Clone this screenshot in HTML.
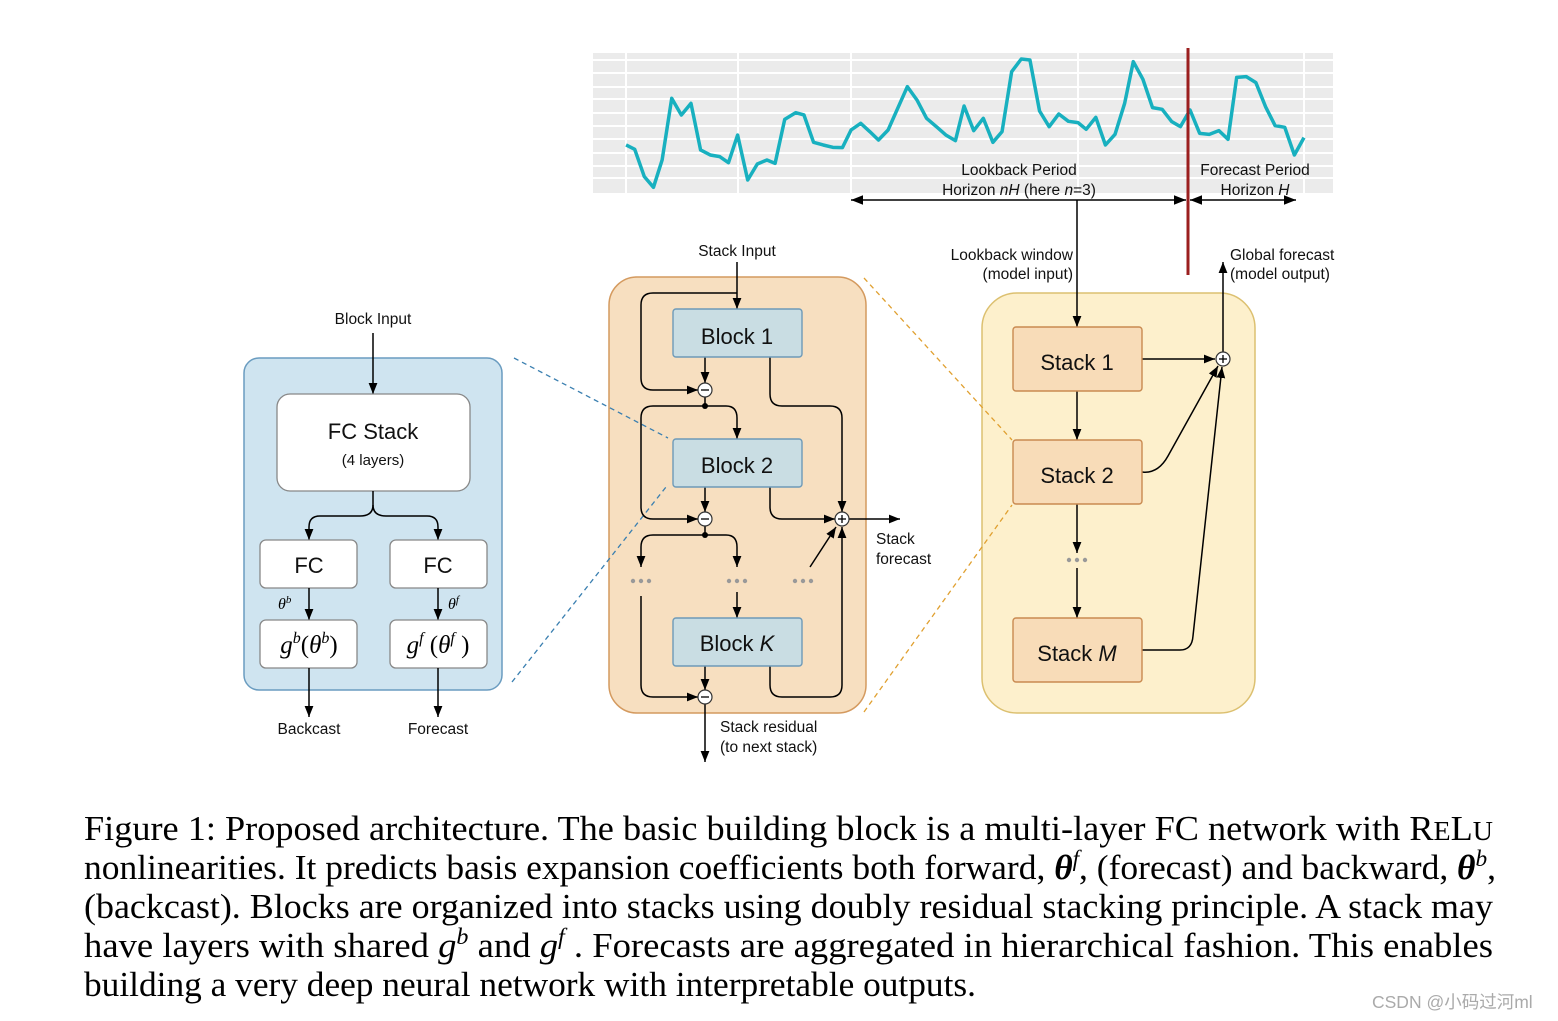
<!DOCTYPE html>
<html><head><meta charset="utf-8"><style>
html,body{margin:0;padding:0;background:#fff;}
svg{display:block;}
.s{font-family:"Liberation Sans",sans-serif;fill:#111;}
.c{font-family:"Liberation Serif",serif;fill:#000;font-size:35px;}
</style></head><body>
<svg width="1558" height="1021" viewBox="0 0 1558 1021" xmlns="http://www.w3.org/2000/svg">
<defs>
<marker id="a" viewBox="0 0 10 10" refX="10" refY="5" markerWidth="11" markerHeight="11" orient="auto-start-reverse" markerUnits="userSpaceOnUse"><path d="M0,1 L10,5 L0,9 z" fill="#000"/></marker>
<marker id="b" viewBox="0 0 10 10" refX="10" refY="5" markerWidth="12" markerHeight="12" orient="auto-start-reverse" markerUnits="userSpaceOnUse"><path d="M0,1 L10,5 L0,9 z" fill="#000"/></marker>
</defs>

<!-- chart -->
<rect x="593" y="53" width="740" height="140" fill="#ebebeb"/>
<g stroke="#fff" stroke-width="2">
<line x1="593" x2="1333" y1="60" y2="60"/><line x1="593" x2="1333" y1="73" y2="73"/><line x1="593" x2="1333" y1="87" y2="87"/><line x1="593" x2="1333" y1="99" y2="99"/><line x1="593" x2="1333" y1="113" y2="113"/><line x1="593" x2="1333" y1="126" y2="126"/><line x1="593" x2="1333" y1="139" y2="139"/><line x1="593" x2="1333" y1="153" y2="153"/><line x1="593" x2="1333" y1="166" y2="166"/><line x1="593" x2="1333" y1="178" y2="178"/>
<line x1="626" x2="626" y1="53" y2="193"/><line x1="738" x2="738" y1="53" y2="193"/><line x1="851" x2="851" y1="53" y2="193"/><line x1="1078" x2="1078" y1="53" y2="193"/><line x1="1304" x2="1304" y1="53" y2="193"/>
</g>
<g transform="translate(590,40) scale(0.4808,0.3333)">
<polyline fill="none" stroke="#18b0bf" stroke-width="3.5" vector-effect="non-scaling-stroke" stroke-linejoin="round" points="75,315 93,328 113,410 132,442 150,360 170,175 190,225 210,190 230,330 250,345 270,350 288,368 307,285 328,420 348,372 368,360 385,370 405,238 428,218 445,225 465,307 485,315 505,322 525,323 543,270 563,250 582,275 600,300 620,270 640,205 660,140 680,180 700,235 722,262 740,285 760,302 778,198 798,272 818,235 838,307 857,275 877,95 897,57 915,60 935,213 955,260 975,222 995,244 1015,248 1032,268 1052,232 1072,315 1092,283 1112,190 1130,65 1150,118 1170,203 1190,208 1210,245 1228,260 1248,210 1268,280 1288,283 1308,272 1327,298 1345,112 1365,110 1385,128 1405,200 1425,257 1445,262 1465,345 1485,293"/>
</g>
<line x1="1188" y1="48" x2="1188" y2="275" stroke="#9b1f1f" stroke-width="3"/>
<text class="s" x="1019" y="175" font-size="15.5" text-anchor="middle">Lookback Period</text>
<text class="s" x="1019" y="195" font-size="15.5" text-anchor="middle">Horizon <tspan font-style="italic">nH</tspan> (here <tspan font-style="italic">n</tspan>=3)</text>
<text class="s" x="1255" y="175" font-size="15.5" text-anchor="middle">Forecast Period</text>
<text class="s" x="1255" y="195" font-size="15.5" text-anchor="middle">Horizon <tspan font-style="italic">H</tspan></text>
<line x1="851" y1="200" x2="1186" y2="200" stroke="#000" stroke-width="1.5" marker-start="url(#b)" marker-end="url(#b)"/>
<line x1="1190" y1="200" x2="1296" y2="200" stroke="#000" stroke-width="1.5" marker-start="url(#b)" marker-end="url(#b)"/>

<!-- left block -->
<rect x="244" y="358" width="258" height="332" rx="15" fill="#cfe4f0" stroke="#6a9cc0" stroke-width="1.5"/>
<text class="s" x="373" y="324" font-size="15.5" text-anchor="middle">Block Input</text>
<line x1="373" y1="333" x2="373" y2="394" stroke="#000" stroke-width="1.5" marker-end="url(#a)"/>
<rect x="277" y="394" width="193" height="97" rx="13" fill="#fff" stroke="#888" stroke-width="1.3"/>
<text class="s" x="373" y="439" font-size="22" text-anchor="middle">FC Stack</text>
<text class="s" x="373" y="465" font-size="15" text-anchor="middle">(4 layers)</text>
<path d="M373,491 V505 Q373,516 360,516 H320 Q309,516 309,527 V540" fill="none" stroke="#000" stroke-width="1.5" marker-end="url(#a)"/>
<path d="M373,505 Q373,516 386,516 H427 Q438,516 438,527 V540" fill="none" stroke="#000" stroke-width="1.5" marker-end="url(#a)"/>
<rect x="260" y="540" width="97" height="48" rx="6" fill="#fff" stroke="#888" stroke-width="1.3"/>
<rect x="390" y="540" width="97" height="48" rx="6" fill="#fff" stroke="#888" stroke-width="1.3"/>
<text class="s" x="309" y="573" font-size="22" text-anchor="middle">FC</text>
<text class="s" x="438" y="573" font-size="22" text-anchor="middle">FC</text>
<line x1="309" y1="588" x2="309" y2="620" stroke="#000" stroke-width="1.5" marker-end="url(#a)"/>
<line x1="438" y1="588" x2="438" y2="620" stroke="#000" stroke-width="1.5" marker-end="url(#a)"/>
<text x="278" y="609" font-family="Liberation Serif,serif" font-style="italic" font-size="16">θ<tspan font-size="11" dy="-6">b</tspan></text>
<text x="448" y="609" font-family="Liberation Serif,serif" font-style="italic" font-size="16">θ<tspan font-size="11" dy="-6">f</tspan></text>
<rect x="260" y="620" width="97" height="48" rx="6" fill="#fff" stroke="#888" stroke-width="1.3"/>
<rect x="390" y="620" width="97" height="48" rx="6" fill="#fff" stroke="#888" stroke-width="1.3"/>
<text x="309" y="653" font-family="Liberation Serif,serif" font-size="25" text-anchor="middle"><tspan font-style="italic">g</tspan><tspan font-style="italic" font-size="16" dy="-10">b</tspan><tspan dy="10">(</tspan><tspan font-style="italic">θ</tspan><tspan font-style="italic" font-size="16" dy="-10">b</tspan><tspan dy="10">)</tspan></text>
<text x="438" y="653" font-family="Liberation Serif,serif" font-size="25" text-anchor="middle"><tspan font-style="italic">g</tspan><tspan font-style="italic" font-size="16" dy="-10">f</tspan><tspan dy="10"> (</tspan><tspan font-style="italic">θ</tspan><tspan font-style="italic" font-size="16" dy="-10">f</tspan><tspan dy="10"> )</tspan></text>
<line x1="309" y1="668" x2="309" y2="717" stroke="#000" stroke-width="1.5" marker-end="url(#a)"/>
<line x1="438" y1="668" x2="438" y2="717" stroke="#000" stroke-width="1.5" marker-end="url(#a)"/>
<text class="s" x="309" y="734" font-size="15.5" text-anchor="middle">Backcast</text>
<text class="s" x="438" y="734" font-size="15.5" text-anchor="middle">Forecast</text>

<!-- middle stack -->
<rect x="609" y="277" width="257" height="436" rx="28" fill="#f7dfc0" stroke="#d49a5f" stroke-width="1.5"/>
<line x1="514" y1="358" x2="668" y2="438" stroke="#3a7fb0" stroke-width="1.3" stroke-dasharray="5,4"/>
<line x1="512" y1="682" x2="666" y2="487" stroke="#3a7fb0" stroke-width="1.3" stroke-dasharray="5,4"/>
<text class="s" x="737" y="256" font-size="15.5" text-anchor="middle">Stack Input</text>
<g fill="none" stroke="#000" stroke-width="1.5">
<line x1="737" y1="262" x2="737" y2="309" marker-end="url(#a)"/>
<path d="M737,293 H653 Q641,293 641,305 V378 Q641,390 653,390 H698" marker-end="url(#a)"/>
<line x1="705" y1="357" x2="705" y2="383" marker-end="url(#a)"/>
<path d="M770,357 V394 Q770,406 782,406 H830 Q842,406 842,418 V512" marker-end="url(#a)"/>
<line x1="705" y1="397" x2="705" y2="406"/>
<path d="M705,406 H726 Q737,406 737,418 V439" marker-end="url(#a)"/>
<path d="M705,406 H653 Q641,406 641,418 V507 Q641,519 653,519 H698" marker-end="url(#a)"/>
<line x1="705" y1="487" x2="705" y2="512" marker-end="url(#a)"/>
<path d="M770,487 V507 Q770,519 782,519 H835" marker-end="url(#a)"/>
<line x1="705" y1="526" x2="705" y2="535"/>
<path d="M705,535 H653 Q641,535 641,547 V567" marker-end="url(#a)"/>
<path d="M705,535 H726 Q737,535 737,547 V567" marker-end="url(#a)"/>
<line x1="737" y1="592" x2="737" y2="618" marker-end="url(#a)"/>
<path d="M641,596 V685 Q641,697 653,697 H698" marker-end="url(#a)"/>
<line x1="705" y1="666" x2="705" y2="690" marker-end="url(#a)"/>
<path d="M770,666 V685 Q770,697 782,697 H830 Q842,697 842,685 V527" marker-end="url(#a)"/>
<line x1="810" y1="567" x2="836" y2="527" marker-end="url(#a)"/>
<line x1="849" y1="519" x2="900" y2="519" marker-end="url(#a)"/>
<line x1="705" y1="704" x2="705" y2="762" marker-end="url(#a)"/>
</g>
<g fill="#fff" stroke="#333" stroke-width="1.2">
<circle cx="705" cy="390" r="7"/><circle cx="705" cy="519" r="7"/><circle cx="705" cy="697" r="7"/><circle cx="842" cy="519" r="7"/>
</g>
<g stroke="#000" stroke-width="1.3">
<line x1="701" y1="390" x2="709" y2="390"/><line x1="701" y1="519" x2="709" y2="519"/><line x1="701" y1="697" x2="709" y2="697"/>
<line x1="838" y1="519" x2="846" y2="519"/><line x1="842" y1="515" x2="842" y2="523"/>
</g>
<circle cx="705" cy="406" r="3" fill="#000"/><circle cx="705" cy="535" r="3" fill="#000"/>
<g fill="#999"><circle cx="633" cy="581" r="2.2"/><circle cx="641" cy="581" r="2.2"/><circle cx="649" cy="581" r="2.2"/>
<circle cx="729" cy="581" r="2.2"/><circle cx="737" cy="581" r="2.2"/><circle cx="745" cy="581" r="2.2"/>
<circle cx="795" cy="581" r="2.2"/><circle cx="803" cy="581" r="2.2"/><circle cx="811" cy="581" r="2.2"/></g>
<g fill="#c9dde3" stroke="#6e9ab8" stroke-width="1.4">
<rect x="673" y="309" width="129" height="48" rx="3"/><rect x="673" y="439" width="129" height="48" rx="3"/><rect x="673" y="618" width="129" height="48" rx="3"/>
</g>
<text class="s" x="737" y="344" font-size="22" text-anchor="middle">Block 1</text>
<text class="s" x="737" y="473" font-size="22" text-anchor="middle">Block 2</text>
<text class="s" x="737" y="651" font-size="22" text-anchor="middle">Block <tspan font-style="italic">K</tspan></text>
<text class="s" x="876" y="544" font-size="15.5">Stack</text>
<text class="s" x="876" y="564" font-size="15.5">forecast</text>
<text class="s" x="720" y="732" font-size="15.5">Stack residual</text>
<text class="s" x="720" y="752" font-size="15.5">(to next stack)</text>

<!-- right model -->
<rect x="982" y="293" width="273" height="420" rx="35" fill="#fdf0cc" stroke="#dcc070" stroke-width="1.5"/>
<line x1="864" y1="278" x2="1012" y2="440" stroke="#e0a030" stroke-width="1.3" stroke-dasharray="5,4"/>
<line x1="864" y1="712" x2="1012" y2="505" stroke="#e0a030" stroke-width="1.3" stroke-dasharray="5,4"/>
<text class="s" x="1073" y="260" font-size="15.5" text-anchor="end">Lookback window</text>
<text class="s" x="1073" y="279" font-size="15.5" text-anchor="end">(model input)</text>
<text class="s" x="1230" y="260" font-size="15.5">Global forecast</text>
<text class="s" x="1230" y="279" font-size="15.5">(model output)</text>
<g fill="none" stroke="#000" stroke-width="1.5">
<line x1="1077" y1="200" x2="1077" y2="327" marker-end="url(#a)"/>
<line x1="1077" y1="391" x2="1077" y2="440" marker-end="url(#a)"/>
<line x1="1077" y1="504" x2="1077" y2="553" marker-end="url(#a)"/>
<line x1="1077" y1="568" x2="1077" y2="618" marker-end="url(#a)"/>
<line x1="1142" y1="359" x2="1215" y2="359" marker-end="url(#a)"/>
<path d="M1142,472 Q1158,474 1168,456 L1218,366" marker-end="url(#a)"/>
<path d="M1142,650 H1180 Q1192,650 1193,636 L1222,367" marker-end="url(#a)"/>
<line x1="1223" y1="352" x2="1223" y2="262" marker-end="url(#a)"/>
</g>
<circle cx="1223" cy="359" r="7" fill="#fff" stroke="#333" stroke-width="1.2"/>
<line x1="1219" y1="359" x2="1227" y2="359" stroke="#000" stroke-width="1.3"/><line x1="1223" y1="355" x2="1223" y2="363" stroke="#000" stroke-width="1.3"/>
<g fill="#999"><circle cx="1069" cy="560" r="2.2"/><circle cx="1077" cy="560" r="2.2"/><circle cx="1085" cy="560" r="2.2"/></g>
<g fill="#f8dcb8" stroke="#c98a50" stroke-width="1.4">
<rect x="1013" y="327" width="129" height="64" rx="3"/><rect x="1013" y="440" width="129" height="64" rx="3"/><rect x="1013" y="618" width="129" height="64" rx="3"/>
</g>
<text class="s" x="1077" y="370" font-size="22" text-anchor="middle">Stack 1</text>
<text class="s" x="1077" y="483" font-size="22" text-anchor="middle">Stack 2</text>
<text class="s" x="1077" y="661" font-size="22" text-anchor="middle">Stack <tspan font-style="italic">M</tspan></text>

<!-- caption -->
<text class="c" x="84" y="840" textLength="1409" lengthAdjust="spacingAndGlyphs">Figure 1: Proposed architecture. The basic building block is a multi-layer FC network with R<tspan font-size="27">E</tspan>L<tspan font-size="27">U</tspan></text>
<text class="c" x="84" y="879" textLength="1412" lengthAdjust="spacingAndGlyphs">nonlinearities. It predicts basis expansion coefficients both forward, <tspan font-style="italic" font-weight="bold">θ</tspan><tspan font-style="italic" font-size="23" dy="-13">f</tspan><tspan dy="13">, (forecast) and backward, </tspan><tspan font-style="italic" font-weight="bold">θ</tspan><tspan font-style="italic" font-size="23" dy="-13">b</tspan><tspan dy="13">,</tspan></text>
<text class="c" x="84" y="918" textLength="1409" lengthAdjust="spacingAndGlyphs">(backcast). Blocks are organized into stacks using doubly residual stacking principle. A stack may</text>
<text class="c" x="84" y="957" textLength="1409" lengthAdjust="spacingAndGlyphs">have layers with shared <tspan font-style="italic">g</tspan><tspan font-style="italic" font-size="23" dy="-13">b</tspan><tspan dy="13"> and </tspan><tspan font-style="italic">g</tspan><tspan font-style="italic" font-size="23" dy="-13">f</tspan><tspan dy="13"> . Forecasts are aggregated in hierarchical fashion. This enables</tspan></text>
<text class="c" x="84" y="996" textLength="892" lengthAdjust="spacingAndGlyphs">building a very deep neural network with interpretable outputs.</text>
<text x="1372" y="1008" font-family="Liberation Sans,Noto Sans CJK SC,sans-serif" font-size="17.5" fill="#aaa">CSDN @小码过河ml</text>
</svg>
</body></html>
